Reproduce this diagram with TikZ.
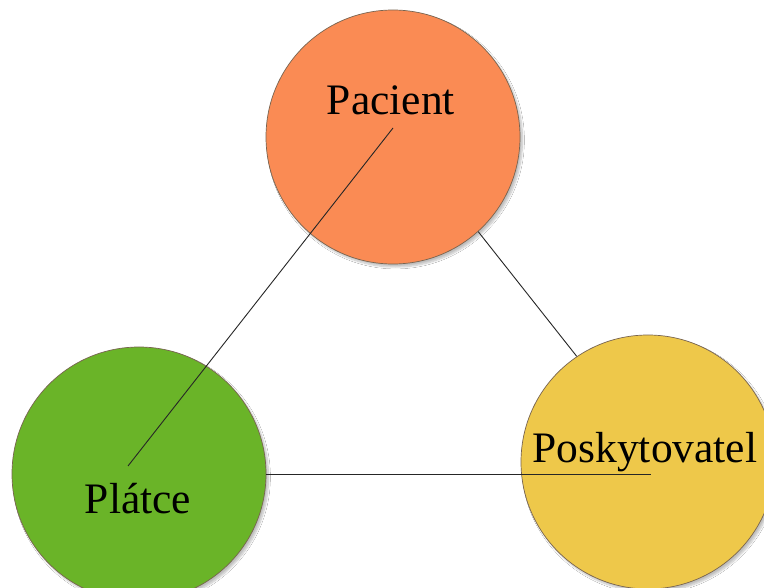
\documentclass[tikz,border=0pt]{standalone}
\usepackage{fontspec}
\setmainfont{Liberation Serif}
\usetikzlibrary{shadows.blur}

\definecolor{pacfill}{RGB}{250,139,84}
\definecolor{plafill}{RGB}{106,180,40}
\definecolor{posfill}{RGB}{238,200,74}
\definecolor{rimcol}{RGB}{120,100,80}

\tikzset{
  party/.style={circle, minimum size=254pt, inner sep=0pt, draw=rimcol, line width=0.7pt,
    blur shadow={shadow xshift=2.5pt, shadow yshift=-3pt, shadow opacity=25, shadow blur steps=8}},
  role/.style={anchor=base, text=black, inner sep=0pt, font=\fontsize{43.5}{50}\selectfont},
  link/.style={draw=black!85, line width=0.9pt}
}

\begin{document}
\begin{tikzpicture}[x=1pt, y=-1pt]
  \useasboundingbox[fill=white] (0,0) rectangle (764,588);
  \clip (0,0) rectangle (764,588);

  % the three parties
  \node[party, fill=pacfill] (pac) at (393,137) {};
  \node[party, fill=plafill] (pla) at (139,474) {};
  \node[party, fill=posfill] (pos) at (648,462) {};

  % names
  \node[role] (pactext) at (391,115) {Pacient};
  \node[role] (platext) at (138,513) {Plátce};
  \node[role] (postext) at (645,462) {Poskytovatel};

  % free ends of the links that run into the circles
  \coordinate (pacfoot) at (393,128);
  \coordinate (plahead) at (128,466);
  \coordinate (posfoot) at (651,474);

  % links
  \draw[link] (pacfoot) -- (plahead);
  \draw[link] (pac.-48) -- (pos.124);
  \draw[link] (pla.east |- posfoot) -- (posfoot);
\end{tikzpicture}
\end{document}
